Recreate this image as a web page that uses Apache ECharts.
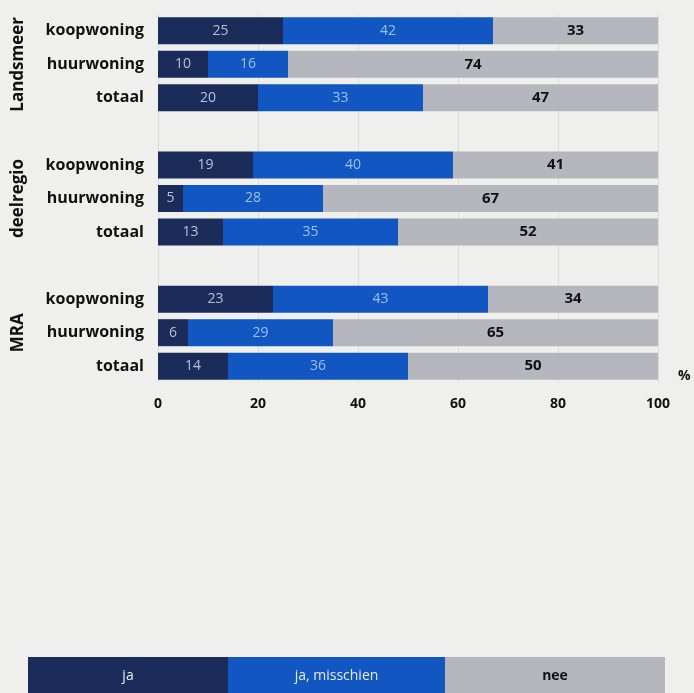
<!DOCTYPE html>
<html><head><meta charset="utf-8">
<script src="https://cdn.jsdelivr.net/npm/echarts@6/dist/echarts.min.js"></script>
<style>html,body{margin:0;padding:0;background:#efefee}#c{width:694px;height:693px}</style>
</head><body><div id="c"></div>
<script>
const rowLabels = ['koopwoning','huurwoning','totaal','','koopwoning','huurwoning','totaal','','koopwoning','huurwoning','totaal'];
const groups = [{name:'Landsmeer', row:1},{name:'deelregio', row:5},{name:'MRA', row:9}];
const ja =        [25,10,20,'-',19,5,13,'-',23,6,14];
const misschien = [42,16,33,'-',40,28,35,'-',43,29,36];
const nee =       [33,74,47,'-',41,67,52,'-',34,65,50];
const xTicks = [0,20,40,60,80,100];
const legendNames = ['ja','ja, misschien','nee'];
const colors = ['#1b2c5a','#1256c2','#b6b6be'];

const chart = echarts.init(document.getElementById('c'));
const font = '"Open Sans", Lato, sans-serif';
function mk(name, data, color, lblColor, bold) {
  return {name, type:'bar', stack:'s', data, barWidth:27,
    itemStyle:{color},
    label:{show:true, position:'inside', color:lblColor, fontFamily:font,
      fontSize: bold?15:14, fontWeight: bold?'bold':'normal'}};
}
chart.setOption({
  backgroundColor:'#efefee',
  animation:false,
  grid:{left:158, right:36, top:14, bottom:310},
  xAxis:{type:'value', min:0, max:100, interval:20,
    name:'%', nameLocation:'end', nameGap:20,
    nameTextStyle:{color:'#111', fontWeight:'bold', fontSize:14, fontFamily:font, verticalAlign:'bottom'},
    axisLine:{show:false}, axisTick:{show:false},
    axisLabel:{color:'#111', fontWeight:'bold', fontSize:14, fontFamily:font, margin:14,
      formatter:v=> xTicks.includes(v)? String(v):''},
    splitLine:{show:true, lineStyle:{color:'#dcdcdc', width:1}}},
  yAxis:{type:'category', inverse:true, data:rowLabels.map((_,i)=>String(i)),
    axisLine:{show:false}, axisTick:{show:false},
    axisLabel:{color:'#111', fontWeight:'bold', fontSize:16, fontFamily:font, margin:14,
      formatter:v=>rowLabels[+v]}},
  series:[
    mk(legendNames[0], ja, colors[0], '#b8c0d6', false),
    mk(legendNames[1], misschien, colors[1], '#9cc0f0', false),
    mk(legendNames[2], nee, colors[2], '#111', true)
  ]
});
const gfx = groups.map(g=>{
  const y = chart.convertToPixel({yAxisIndex:0}, String(g.row));
  return {type:'text', x:18, y:y, rotation:Math.PI/2,
    style:{text:g.name, fill:'#111', font:'bold 17px '+font, align:'center', verticalAlign:'middle'}};
});
const lx = [28,228,445,665];
legendNames.forEach((n,i)=>{
  gfx.push({type:'rect', shape:{x:lx[i], y:657, width:lx[i+1]-lx[i], height:40}, style:{fill:colors[i]}});
  gfx.push({type:'text', x:(lx[i]+lx[i+1])/2, y:676,
    style:{text:n, fill:i<2?'#e8ecf4':'#111', font:(i==2?'bold ':'')+'14px '+font, align:'center', verticalAlign:'middle'}});
});
chart.setOption({graphic:gfx});
</script></body></html>
